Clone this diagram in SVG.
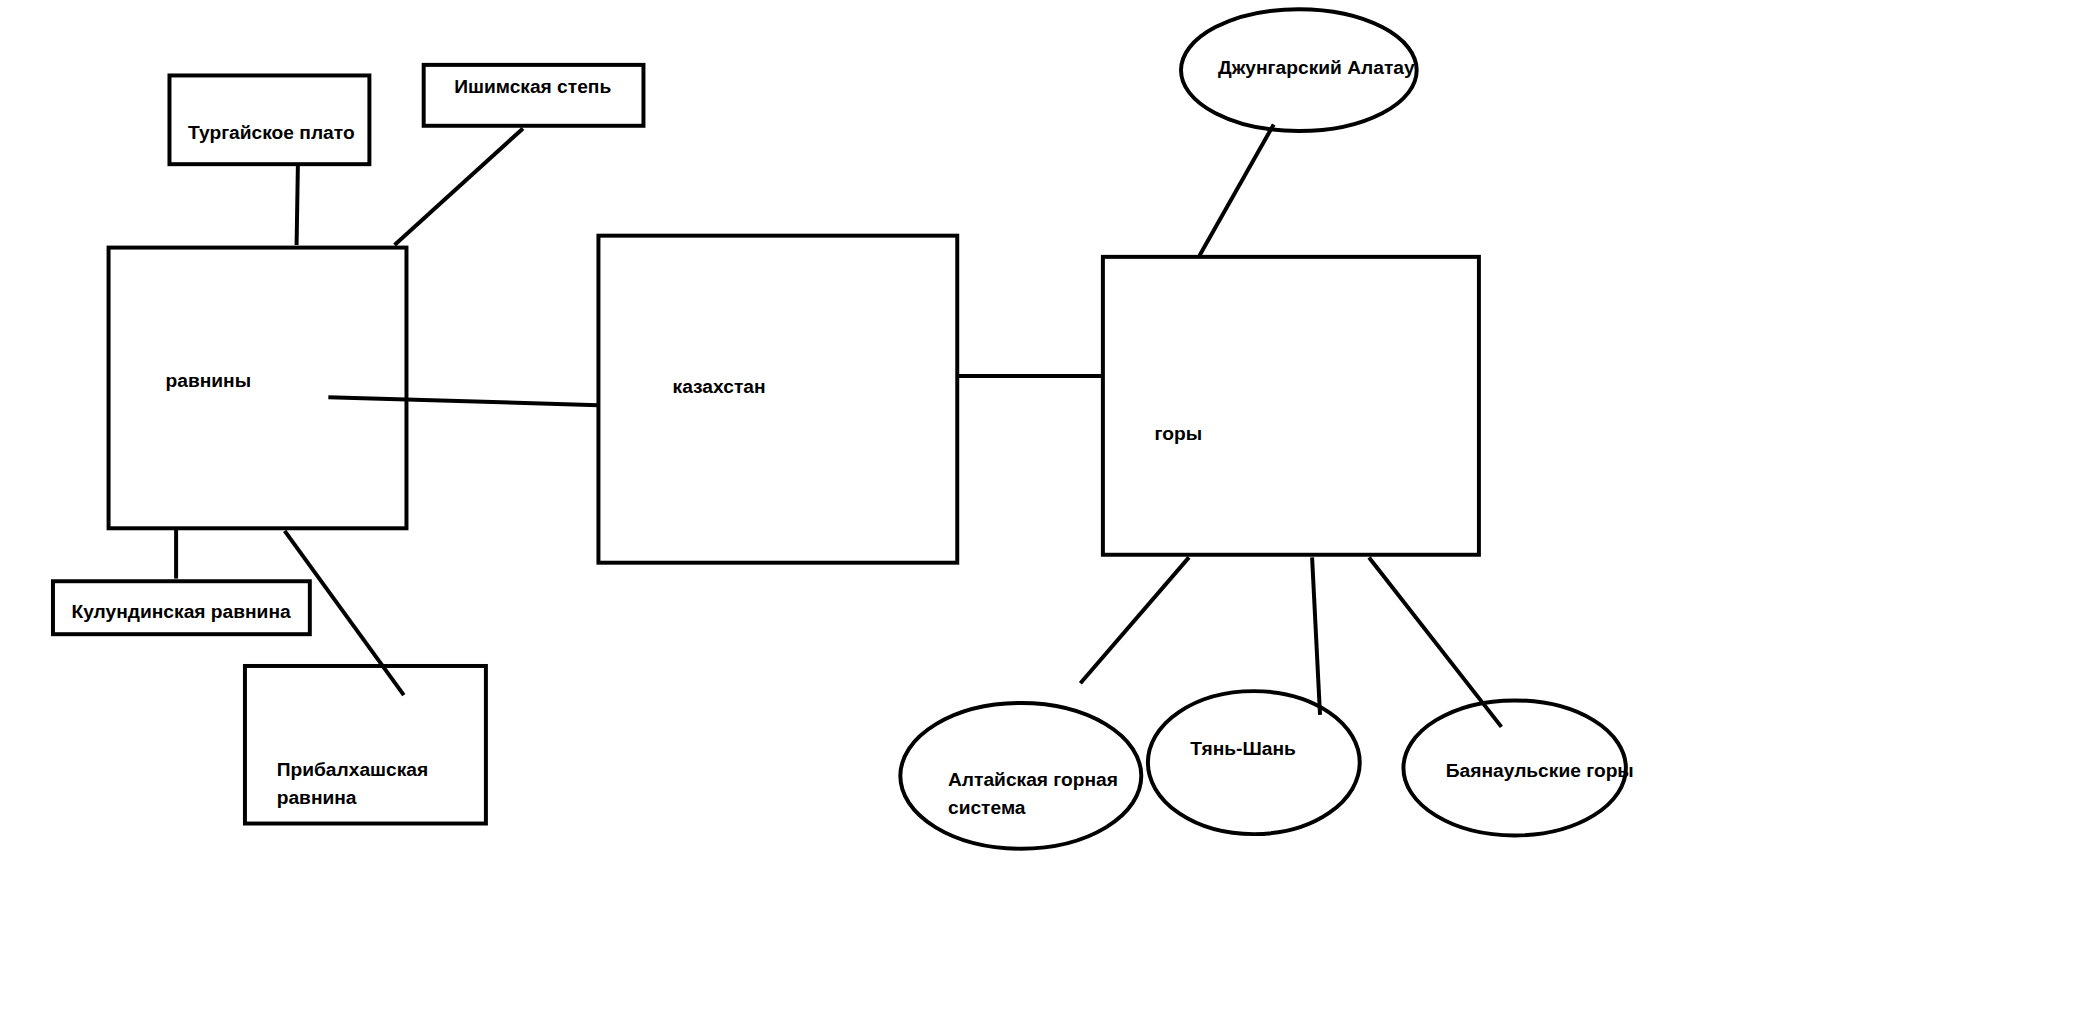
<svg xmlns="http://www.w3.org/2000/svg" width="2076" height="1028" viewBox="0 0 2076 1028">
<style>
.b{fill:none;stroke:#000;stroke-width:3}
.c line{stroke:#000;stroke-width:3}
text{font-family:"Liberation Sans",Arial,sans-serif;font-size:14.5px;font-weight:bold;fill:#000}
</style>
<rect width="2076" height="1028" fill="#fff"/>
<g transform="scale(1.324)">
<g class="c" id="connectors">
<line x1="225" y1="124" x2="224" y2="185"/>
<line x1="395" y1="97" x2="298" y2="185"/>
<line x1="248" y1="300" x2="452" y2="306"/>
<line x1="133" y1="399" x2="133" y2="437"/>
<line x1="215" y1="401" x2="305" y2="525"/>
<line x1="723" y1="284" x2="833" y2="284"/>
<line x1="962" y1="94" x2="906" y2="193"/>
<line x1="898" y1="421" x2="816" y2="516"/>
<line x1="991" y1="421" x2="997" y2="540"/>
<line x1="1034" y1="421" x2="1134" y2="549"/>
</g>
<g id="turgai"><rect class="b" x="128" y="57" width="151" height="67"/><text x="142" y="105">Тургайское плато</text></g>
<g id="ishim"><rect class="b" x="320" y="49" width="166" height="46"/><text x="343" y="70">Ишимская степь</text></g>
<g id="ravniny"><rect class="b" x="82" y="187" width="225" height="212"/><text x="125" y="292">равнины</text></g>
<g id="kazakhstan"><rect class="b" x="452" y="178" width="271" height="247"/><text x="508" y="297">казахстан</text></g>
<g id="gory"><rect class="b" x="833" y="194" width="284" height="225"/><text x="872" y="332">горы</text></g>
<g id="kulunda"><rect class="b" x="40" y="439" width="194" height="40"/><text x="54" y="467">Кулундинская равнина</text></g>
<g id="pribalkhash"><rect class="b" x="185" y="503" width="182" height="119"/><text x="209" y="586">Прибалхашская</text><text x="209" y="607">равнина</text></g>
<g id="dzhungar"><ellipse class="b" cx="981" cy="53" rx="89" ry="46"/><text x="920" y="56">Джунгарский Алатау</text></g>
<g id="altai"><ellipse class="b" cx="771" cy="586" rx="91" ry="55"/><text x="716" y="594">Алтайская горная</text><text x="716" y="615">система</text></g>
<g id="tianshan"><ellipse class="b" cx="947" cy="576" rx="80" ry="54"/><text x="899" y="570">Тянь-Шань</text></g>
<g id="bayanaul"><ellipse class="b" cx="1144" cy="580" rx="84" ry="51"/><text x="1092" y="587">Баянаульские горы</text></g>
</g>
</svg>
